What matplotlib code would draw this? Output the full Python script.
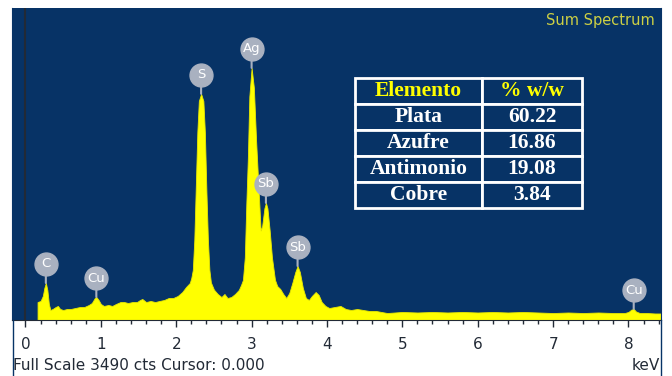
import numpy as np
import matplotlib
matplotlib.use('Agg')
import matplotlib.pyplot as plt
from matplotlib.transforms import offset_copy
from matplotlib.lines import Line2D

# Espectro EDS (keV, cuentas)
energia = [0.16, 0.20, 0.23, 0.25, 0.27, 0.29, 0.31, 0.33, 0.36, 0.40, 0.43, 0.46,
           0.50, 0.55, 0.60, 0.66, 0.72, 0.78, 0.84, 0.88, 0.92, 0.94, 0.97, 1.00,
           1.04, 1.10, 1.15, 1.20, 1.26, 1.31, 1.36, 1.42, 1.48, 1.52, 1.55, 1.60,
           1.66, 1.72, 1.78, 1.84, 1.90, 1.96, 2.02, 2.08, 2.13, 2.18, 2.20, 2.22,
           2.24, 2.26, 2.28, 2.30, 2.33, 2.36, 2.38, 2.40, 2.42, 2.44, 2.46, 2.50,
           2.55, 2.60, 2.64, 2.68, 2.73, 2.78, 2.83, 2.86, 2.885, 2.91, 2.93, 2.95,
           2.97, 3.00, 3.03, 3.06, 3.09, 3.12, 3.14, 3.17, 3.19, 3.21, 3.24, 3.27,
           3.31, 3.34, 3.38, 3.42, 3.46, 3.50, 3.54, 3.58, 3.61, 3.64, 3.68, 3.72,
           3.76, 3.80, 3.85, 3.89, 3.93, 3.98, 4.03, 4.10, 4.18, 4.25, 4.32, 4.40,
           4.48, 4.56, 4.65, 4.72, 4.80, 4.90, 5.00, 5.20, 5.40, 5.60, 5.80, 6.00,
           6.20, 6.40, 6.60, 6.80, 7.00, 7.20, 7.40, 7.60, 7.80, 7.95, 8.00, 8.04,
           8.07, 8.10, 8.15, 8.25, 8.35, 8.43]
cuentas = [201, 213, 269, 358, 414, 336, 179, 112, 123, 145, 157, 123,
           112, 123, 123, 134, 145, 145, 168, 190, 246, 257, 224, 179,
           157, 168, 157, 179, 201, 201, 190, 201, 201, 224, 235, 201,
           213, 201, 213, 224, 246, 246, 269, 313, 369, 414, 470, 560,
           900, 1500, 2100, 2450, 2530, 2450, 2100, 1450, 900, 560, 420, 340,
           291, 257, 291, 246, 257, 291, 336, 392, 448, 700, 1300, 1800,
           2500, 2820, 2600, 2000, 1500, 1000, 1050, 1250, 1310, 1250, 1000, 700,
           450, 380, 347, 291, 246, 302, 414, 537, 604, 537, 358, 246,
           224, 269, 313, 280, 201, 157, 134, 145, 157, 123, 112, 123,
           112, 101, 101, 90, 78, 84, 90, 84, 90, 84, 90, 84,
           90, 84, 90, 84, 78, 84, 78, 84, 78, 78, 90, 117,
           123, 95, 78, 78, 73, 73]

picos = ['C', 'Cu', 'S', 'Ag', 'Sb', 'Sb', 'Cu']
picos_kev = [0.27, 0.94, 2.33, 3.00, 3.19, 3.61, 8.07]
picos_cts = [414, 257, 2530, 2820, 1310, 604, 123]

elementos = ['Plata', 'Azufre', 'Antimonio', 'Cobre']
porcentajes = ['60.22', '16.86', '19.08', '3.84']

azul = '#073366'
gris = '#a9b1c0'
oscuro = '#222a36'

fig = plt.figure(figsize=(6.72, 3.76), dpi=100)
ax = fig.add_axes([12/672, 56/376, 649/672, 312/376])
ax.set_facecolor(azul)
ax.fill_between(energia, cuentas, 0, facecolor='#ffff00', edgecolor='#e8e800', lw=0.6, zorder=2)
ax.axvline(0, color=oscuro, lw=1.5, zorder=1)
ax.set_xlim(-0.179, 8.432)
ax.set_ylim(0, 3490)
ax.set_yticks([])
ax.set_xticks(range(9))
ax.set_xticks(np.arange(0, 8.41, 0.2), minor=True)
ax.tick_params(axis='x', which='major', direction='out', length=5, width=1,
               color=oscuro, labelsize=11, labelcolor=oscuro, pad=7)
ax.tick_params(axis='x', which='minor', direction='out', length=3, width=1, color=oscuro)
ax.spines['top'].set_visible(False)
ax.spines['left'].set_color(azul)
ax.spines['right'].set_color(azul)
ax.spines['bottom'].set_color(oscuro)

# bordes del panel blanco inferior
fig.add_artist(Line2D([12.5/672, 12.5/672], [0, 56/376], color=azul, lw=1))
fig.add_artist(Line2D([661/672, 661/672], [0, 56/376], color=azul, lw=1))

# etiquetas de los picos
desplazado = offset_copy(ax.transData, fig=fig, x=0, y=19, units='dots')
for nombre, e, c in zip(picos, picos_kev, picos_cts):
    ax.annotate('', xy=(e, c), xytext=(0, 19), textcoords='offset pixels',
                arrowprops=dict(arrowstyle='-', color=gris, lw=1.5, shrinkA=0, shrinkB=0),
                zorder=4)
    ax.plot(e, c, 'o', ms=16.5, color=gris, transform=desplazado, zorder=5)
    ax.text(e, c, nombre, transform=desplazado, ha='center', va='center',
            color='white', fontsize=9.5, zorder=6)

# tabla de composicion
celdas = [[el, p] for el, p in zip(elementos, porcentajes)]
tabla = ax.table(cellText=celdas, colLabels=['Elemento', '% w/w'], colWidths=[0.559, 0.441],
                 bbox=[0.5285, 0.359, 0.3498, 0.4167], cellLoc='center')
tabla.auto_set_font_size(False)
for (r, c), celda in tabla.get_celld().items():
    celda.set_facecolor(azul)
    celda.set_edgecolor('white')
    celda.set_linewidth(2)
    t = celda.get_text()
    t.set_color('#ffff00' if r == 0 else 'white')
    t.set_fontfamily('Liberation Serif')
    t.set_fontweight('bold')
    t.set_fontsize(15.5)

fig.text(655/672, 1 - 21/376, 'Sum Spectrum', ha='right', va='center',
         color='#cdd044', fontsize=10.5)
fig.text(13/672, 10/376, 'Full Scale 3490 cts Cursor: 0.000', ha='left', va='center',
         color=oscuro, fontsize=11)
fig.text(660/672, 10/376, 'keV', ha='right', va='center', color=oscuro, fontsize=11)

fig.savefig('out.png', dpi=100)
